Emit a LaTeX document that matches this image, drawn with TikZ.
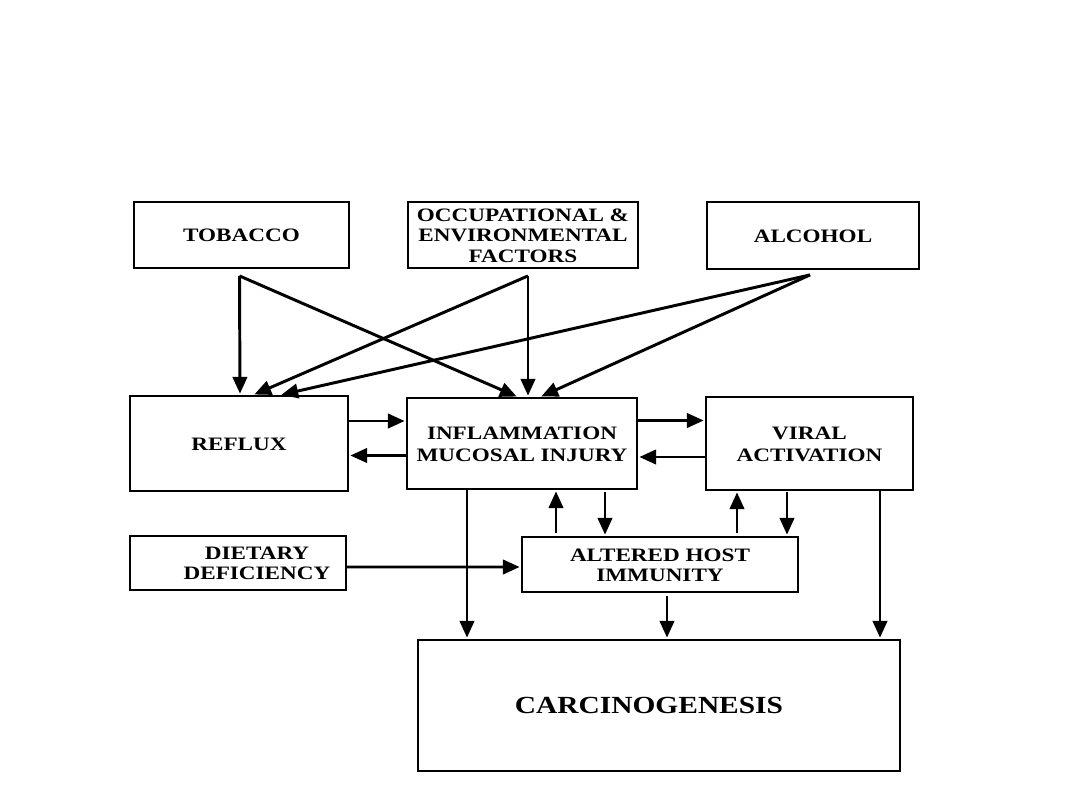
\documentclass[tikz,border=0pt]{standalone}
\usepackage{graphicx}
\usepackage{fontspec}
\setmainfont{Liberation Serif}
\usetikzlibrary{arrows.meta, positioning, calc}

% wide bold caps as in the scanned figure
\newcommand{\lbl}[1]{\raisebox{-0.07cm}[\height][\depth]{\scalebox{1.22}[1]{\begin{tabular}{@{}c@{}}#1\end{tabular}}}}

\begin{document}
\begin{tikzpicture}[
    x=0.025cm,
    y=-0.025cm,
    font=\fontsize{13.5}{14.4}\selectfont\bfseries,
    box/.style={
        draw,
        line width=1.3pt,
        inner sep=0pt,
        align=center
    },
    arr/.style={
        -{Triangle[length=0.42cm, width=0.36cm]},
        line width=2.1pt,
        line join=round,
        shorten >=1pt
    }
]

\useasboundingbox (0,0) rectangle (1080,810);

% Causes
\node[box, minimum width=5.375cm, minimum height=1.65cm] (tob) at (241.5,235) {\lbl{TOBACCO}};
\node[box, minimum width=5.75cm, minimum height=1.65cm] (occ) at (523,235) {\lbl{OCCUPATIONAL \&\\ENVIRONMENTAL\\FACTORS}};
\node[box, minimum width=5.3cm, minimum height=1.675cm] (alc) at (813,235.5) {\lbl{ALCOHOL}};

% Middle row
\node[box, minimum width=5.45cm, minimum height=2.375cm] (ref) at (239,443.5) {\lbl{REFLUX}};
\node[box, minimum width=5.75cm, minimum height=2.275cm] (inf) at (522,443.5) {\lbl{INFLAMMATION\\[1pt]MUCOSAL INJURY}};
\node[box, minimum width=5.175cm, minimum height=2.325cm] (vir) at (809.5,443.5) {\lbl{VIRAL\\[1pt]ACTIVATION}};

% Lower row
\node[box, minimum width=5.4cm, minimum height=1.35cm] (diet) at (238,563) {\hspace*{0.95cm}\lbl{DIETARY\\DEFICIENCY}};
\node[box, minimum width=6.9cm, minimum height=1.375cm] (imm) at (660,564.5) {\lbl{ALTERED HOST\\IMMUNITY}};
\node[box, minimum width=12.05cm, minimum height=3.275cm, font=\fontsize{17.5}{20}\selectfont\bfseries] (car) at (659,705.5) {\scalebox{0.98}[1]{\lbl{CARCINOGENESIS}}\hspace*{0.5cm}};

% Start points below the cause boxes
\coordinate (tobout) at ($(tob.south)+(-2,7)$);
\coordinate (occout) at ($(occ.south)+(5,7)$);
\coordinate (alcout) at ($(alc.south)+(-3,5)$);

\draw[arr] (tobout) -- ($(ref.north)+(1,0)$);
\draw[arr] (tobout) -- ($(inf.north)+(-4,0)$);
\draw[arr] (occout) -- ($(ref.north)+(14,0)$);
\draw[arr] (occout) -- ($(inf.north)+(6,0)$);
\draw[arr] (alcout) -- ($(ref.north)+(41,0)$);
\draw[arr] (alcout) -- ($(inf.north)+(18,0)$);

% Reflux <-> Inflammation <-> Viral
\draw[arr] ($(ref.east)+(0,-22.5)$) -- ($(inf.west)+(0,-22.5)$);
\draw[arr] ($(inf.west)+(0,12)$) -- ($(ref.east)+(0,12)$);
\draw[arr] ($(inf.east)+(0,-23)$) -- ($(vir.west)+(0,-23)$);
\draw[arr] ($(vir.west)+(0,13.5)$) -- ($(inf.east)+(0,13.5)$);

% Immunity links
\coordinate (infdown) at ($(inf.south)+(-55,0)$);
\coordinate (immup1) at ($(imm.north)+(-104,-3)$);
\coordinate (infdn2) at ($(inf.south)+(83,2)$);
\coordinate (immup2) at ($(imm.north)+(77,-3)$);
\coordinate (virdn1) at ($(vir.south)+(-22.5,1)$);
\coordinate (virdown) at ($(vir.south)+(70.5,0)$);
\coordinate (immdown) at ($(imm.south)+(7,3)$);

\draw[arr] (immup1) -- (immup1 |- inf.south);
\draw[arr] (infdn2) -- (infdn2 |- imm.north);
\draw[arr] (immup2) -- (immup2 |- vir.south);
\draw[arr] (virdn1) -- (virdn1 |- imm.north);

\draw[arr] ($(diet.east)+(0,4)$) -- ($(imm.west)+(0,2.5)$);

% Into carcinogenesis
\draw[arr] (infdown) -- (infdown |- car.north);
\draw[arr] (immdown) -- (immdown |- car.north);
\draw[arr] (virdown) -- (virdown |- car.north);

\end{tikzpicture}
\end{document}
